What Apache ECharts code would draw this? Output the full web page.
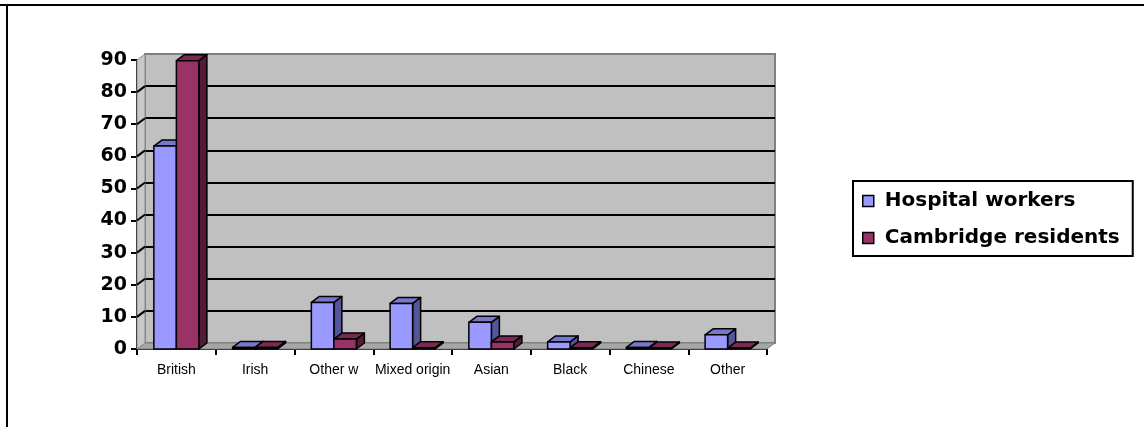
<!DOCTYPE html>
<html>
<head>
<meta charset="utf-8">
<script src="https://cdn.jsdelivr.net/npm/echarts@6/dist/echarts.min.js"></script>
<style>
html,body{margin:0;padding:0;background:#fff;}
#chart{width:1144px;height:427px;}
</style>
</head>
<body>
<div id="chart"></div>
<script>
const categories = ['British', 'Irish', 'Other w', 'Mixed origin', 'Asian', 'Black', 'Chinese', 'Other'];
const hospitalWorkers = [63.2, 0.5, 14.5, 14.2, 8.3, 2.2, 0.5, 4.4];
const cambridgeResidents = [89.8, 0.5, 3.1, 0.4, 2.2, 0.4, 0.3, 0.3];
const yTicks = [0, 10, 20, 30, 40, 50, 60, 70, 80, 90];
const seriesNames = ['Hospital workers', 'Cambridge residents'];

const DX = 8, DY = -6;           // 3D depth offset (px)
const BAR_FRAC = 0.286;          // bar width as fraction of band
const FACES = [
  { front: '#9999ff', top: '#7777cc', side: '#55559a' },
  { front: '#993366', top: '#7a2952', side: '#521b37' }
];

function barRender(k) {
  return function (params, api) {
    const idx = api.value(0), val = api.value(1);
    const base = api.coord([idx, 0]);
    const top = api.coord([idx, val]);
    const bw = api.size([1, 0])[0];
    const w = bw * BAR_FRAC;
    const x0 = base[0] + (k === 0 ? -w : 0);
    const x1 = x0 + w;
    const yb = base[1], yt = top[1];
    const c = FACES[k];
    const st = { stroke: '#000', lineWidth: 1.5, lineJoin: 'round' };
    return {
      type: 'group',
      children: [
        { type: 'polygon', shape: { points: [[x1, yt], [x1 + DX, yt + DY], [x1 + DX, yb + DY], [x1, yb]] }, style: Object.assign({ fill: c.side }, st) },
        { type: 'polygon', shape: { points: [[x0, yt], [x0 + DX, yt + DY], [x1 + DX, yt + DY], [x1, yt]] }, style: Object.assign({ fill: c.top }, st) },
        { type: 'rect', shape: { x: x0, y: yt, width: w, height: yb - yt }, style: Object.assign({ fill: c.front }, st) }
      ]
    };
  };
}

function wallRender(params, api) {
  const n = categories.length;
  const bw = api.size([1, 0])[0];
  const pL = api.coord([0, 0]);
  const pR = api.coord([n - 1, 0]);
  const xL = pL[0] - bw / 2, xR = pR[0] + bw / 2;
  const y0 = pL[1];
  const yMax = api.coord([0, yTicks[yTicks.length - 1]])[1];
  const children = [
    { type: 'polygon', shape: { points: [[xL, y0], [xR, y0], [xR + DX, y0 + DY], [xL + DX, y0 + DY]] },
      style: { fill: '#a6a6a6', stroke: '#808080', lineWidth: 1 } },
    { type: 'polygon', shape: { points: [[xL, y0], [xL, yMax], [xL + DX, yMax + DY], [xL + DX, y0 + DY]] },
      style: { fill: '#c8c8c8', stroke: '#8a8a8a', lineWidth: 1 } }
  ];
  yTicks.forEach(function (v, i) {
    if (i === 0 || i === yTicks.length - 1) return;
    const y = api.coord([0, v])[1];
    children.push({ type: 'line', shape: { x1: xL, y1: y, x2: xL + DX, y2: y + DY }, style: { stroke: '#000', lineWidth: 2 } });
  });
  return { type: 'group', children: children };
}

const chart = echarts.init(document.getElementById('chart'), null, { renderer: 'canvas' });
chart.setOption({
  animation: false,
  backgroundColor: '#fff',
  graphic: [
    { type: 'line', shape: { x1: 0, y1: 5, x2: 1144, y2: 5 }, style: { stroke: '#000', lineWidth: 2 } },
    { type: 'line', shape: { x1: 7, y1: 5, x2: 7, y2: 427 }, style: { stroke: '#000', lineWidth: 2 } }
  ],
  legend: {
    orient: 'vertical',
    left: 853, top: 181,
    padding: [10, 13, 8, 9],
    itemGap: 17,
    itemWidth: 11, itemHeight: 11,
    icon: 'rect',
    borderColor: '#000', borderWidth: 2,
    itemStyle: { borderColor: '#000', borderWidth: 1.5 },
    textStyle: { fontFamily: 'DejaVu Sans', fontWeight: 'bold', fontSize: 20, color: '#000', padding: [0, 0, 0, 6] },
    data: seriesNames
  },
  grid: [
    { left: 137, top: 60, width: 630, height: 289, show: false },
    { left: 145, top: 54, width: 630, height: 289, show: true, backgroundColor: '#c0c0c0', borderColor: '#808080', borderWidth: 2 }
  ],
  xAxis: [
    {
      type: 'category', gridIndex: 0, data: categories,
      axisLine: { lineStyle: { color: '#000', width: 2 } },
      axisTick: { show: true, length: 6, lineStyle: { color: '#000', width: 2 } },
      axisLabel: { fontFamily: 'Liberation Sans', fontSize: 14, color: '#000', margin: 14, interval: 0 }
    },
    { type: 'category', gridIndex: 1, data: categories, show: false }
  ],
  yAxis: [
    {
      type: 'value', gridIndex: 0, min: 0, max: 90, interval: 10,
      axisLine: { show: true, lineStyle: { color: '#000', width: 2 } },
      axisTick: { show: true, length: 6, lineStyle: { color: '#000', width: 2 } },
      axisLabel: { fontFamily: 'DejaVu Sans', fontWeight: 'bold', fontSize: 19, color: '#000', margin: 10 },
      splitLine: { show: false }
    },
    {
      type: 'value', gridIndex: 1, min: 0, max: 90, interval: 10,
      axisLine: { show: false }, axisTick: { show: false }, axisLabel: { show: false },
      splitLine: { show: true, showMinLine: false, showMaxLine: false, lineStyle: { color: '#000', width: 2 } }
    }
  ],
  series: [
    {
      type: 'custom', name: 'walls', xAxisIndex: 0, yAxisIndex: 0, z: 1, silent: true,
      renderItem: wallRender, data: [[0, 0]], encode: { x: 0, y: 1 }
    },
    {
      type: 'custom', name: seriesNames[0], xAxisIndex: 0, yAxisIndex: 0, z: 3,
      itemStyle: { color: FACES[0].front },
      renderItem: barRender(0), encode: { x: 0, y: 1 },
      data: hospitalWorkers.map(function (v, i) { return [i, v]; })
    },
    {
      type: 'custom', name: seriesNames[1], xAxisIndex: 0, yAxisIndex: 0, z: 4,
      itemStyle: { color: FACES[1].front },
      renderItem: barRender(1), encode: { x: 0, y: 1 },
      data: cambridgeResidents.map(function (v, i) { return [i, v]; })
    }
  ]
});
</script>
</body>
</html>
